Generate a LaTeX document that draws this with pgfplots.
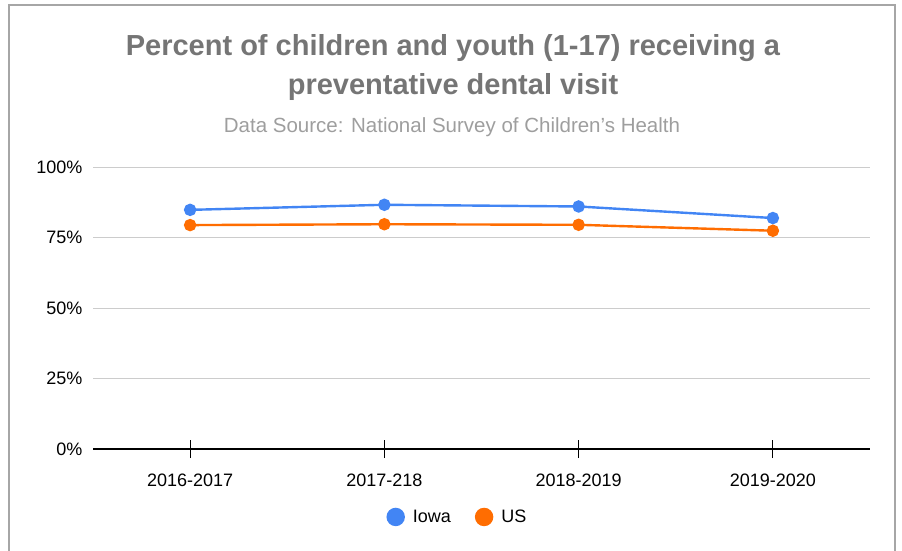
\documentclass[border=0pt]{standalone}
\usepackage{pgfplots}
\pgfplotsset{compat=1.18}
\usepackage{fontspec}
\setmainfont{Liberation Sans}
\definecolor{iowablue}{HTML}{4285F4}
\definecolor{usorange}{HTML}{FF6D01}
\definecolor{titlegray}{HTML}{757575}
\definecolor{subgray}{HTML}{9E9E9E}
\definecolor{gridgray}{HTML}{CCCCCC}
\begin{document}
\begin{tikzpicture}[x=1pt,y=1pt]
\useasboundingbox (0,0) rectangle (902,551);
\begin{scope}
\clip (0,0) rectangle (902,551);
\draw[gray!70, line width=1.2pt] (9,546) rectangle (895,-20);
\end{scope}
\node[font=\fontsize{29}{32}\selectfont\bfseries, text=titlegray] at (453,503) {Percent of children and youth (1-17) receiving a};
\node[font=\fontsize{29}{32}\selectfont\bfseries, text=titlegray] at (453,464) {preventative dental visit};
\node[font=\fontsize{20.5}{24}\selectfont, text=subgray] at (452,424) {Data Source: National Survey of Children’s Health};
\begin{axis}[
  at={(93pt,102pt)}, anchor=south west,
  width=777pt, height=282pt, scale only axis,
  xmin=-0.5, xmax=3.5, ymin=0, ymax=100,
  xtick={0,1,2,3},
  xticklabels={2016-2017,2017-218,2018-2019,2019-2020},
  ytick={0,25,50,75,100},
  yticklabels={0\%,25\%,50\%,75\%,100\%},
  ymajorgrids, grid style={gridgray, line width=0.9pt},
  axis line style={draw=none},
  ytick style={draw=none},
  xtick pos=bottom,
  xtick align=center, major tick length=18pt,
  xtick style={black, line width=1pt},
  tick label style={font=\fontsize{18}{21}\selectfont, /pgf/number format/assume math mode=true},
  yticklabel style={xshift=-7pt},
  xticklabel style={yshift=-12pt},
  clip=false,
  legend columns=2,
  legend style={at={(0.469,-0.241)}, anchor=center, draw=none, font=\fontsize{18}{21}\selectfont,
    /tikz/every odd column/.append style={column sep=6pt},
    /tikz/every even column/.append style={column sep=22pt}},
  legend image code/.code={\fill[#1] (0pt,0pt) circle (8pt);},
]
\addplot[iowablue, line width=2.4pt, mark=*, mark size=5pt, mark options={fill=iowablue}]
  coordinates {(0,84.8) (1,86.6) (2,86.0) (3,81.9)};
\addplot[usorange, line width=2.4pt, mark=*, mark size=5pt, mark options={fill=usorange}]
  coordinates {(0,79.4) (1,79.7) (2,79.5) (3,77.4)};
\legend{Iowa,US}
\draw[black, line width=1.4pt] (axis cs:-0.5,0) -- (axis cs:3.5,0);
\end{axis}
\end{tikzpicture}
\end{document}
